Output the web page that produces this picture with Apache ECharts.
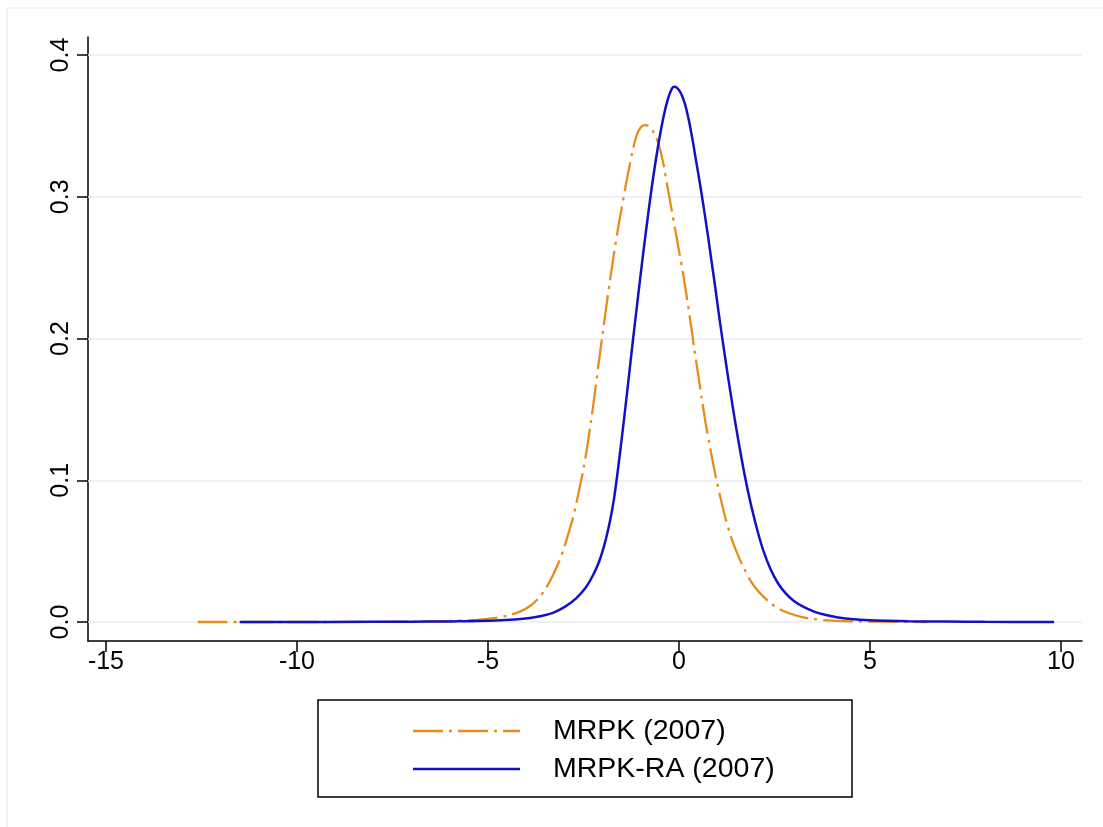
<!DOCTYPE html>
<html>
<head>
<meta charset="utf-8">
<style>
  html, body { margin: 0; padding: 0; background: #ffffff; }
  #chart { width: 1103px; height: 827px; }
</style>
<script src="https://cdn.jsdelivr.net/npm/echarts@6/dist/echarts.min.js"></script>
</head>
<body>
<div id="chart"></div>
<script>
// Kernel density estimates of log MRPK, 2007
const seriesNames = ['MRPK (2007)', 'MRPK-RA (2007)'];

const mrpkX = [-12.6, -10, -8, -7, -6, -5.3, -4.85, -4.5, -4.15, -3.9, -3.7, -3.5, -3.3, -3.15, -3.0,
  -2.9, -2.8, -2.7, -2.6, -2.5, -2.4, -2.3, -2.2, -2.1, -2.0, -1.9, -1.8, -1.7, -1.6, -1.5, -1.4, -1.3,
  -1.2, -1.1, -1.0, -0.9, -0.8, -0.7, -0.6, -0.5, -0.4, -0.3, -0.2, -0.1, 0.0, 0.1, 0.2, 0.3, 0.4, 0.5,
  0.6, 0.7, 0.8, 0.9, 1.0, 1.1, 1.2, 1.35, 1.5, 1.7, 1.9, 2.1, 2.35, 2.6, 2.9, 3.2, 3.5, 3.9, 4.5, 5.2, 6.5];
const mrpkY = [0, 0, 0.0001, 0.0003, 0.0007, 0.0015, 0.0027, 0.0045, 0.0075, 0.0113, 0.0160, 0.023, 0.033, 0.042, 0.053,
  0.062, 0.071, 0.082, 0.095, 0.108, 0.124, 0.142, 0.162, 0.183, 0.203, 0.223, 0.242, 0.260, 0.277, 0.292, 0.307, 0.321,
  0.334, 0.344, 0.349, 0.3506, 0.3500, 0.347, 0.342, 0.334, 0.322, 0.307, 0.292, 0.277, 0.262, 0.247, 0.230, 0.212, 0.193, 0.175,
  0.157, 0.140, 0.125, 0.111, 0.098, 0.086, 0.075, 0.061, 0.050, 0.038, 0.028, 0.021, 0.0145, 0.0095, 0.0060, 0.0036, 0.0022, 0.0011, 0.0005, 0.0002, 0];

const raX = [-11.5, -10, -8, -7, -6, -5.5, -4.8, -4.3, -3.9, -3.6, -3.3, -3.0, -2.7, -2.45, -2.25, -2.1, -2.0,
  -1.9, -1.8, -1.7, -1.6, -1.5, -1.4, -1.3, -1.2, -1.1, -1.0, -0.9, -0.8, -0.7, -0.6, -0.5, -0.4, -0.3,
  -0.2, -0.13, -0.05, 0.05, 0.15, 0.25, 0.35, 0.45, 0.55, 0.65, 0.75, 0.85, 0.95, 1.05, 1.2, 1.4, 1.6, 1.8,
  2.0, 2.2, 2.4, 2.6, 2.8, 3.0, 3.25, 3.52, 3.82, 4.13, 4.5, 5.0, 5.5, 6, 7, 8, 9.82];
const raY = [0, 0, 0.0001, 0.0002, 0.0004, 0.0006, 0.0011, 0.0018, 0.0028, 0.0042, 0.0065, 0.0105, 0.0165, 0.024, 0.033, 0.042, 0.050,
  0.060, 0.072, 0.087, 0.107, 0.129, 0.152, 0.176, 0.200, 0.223, 0.246, 0.268, 0.289, 0.309, 0.327, 0.343, 0.357, 0.368,
  0.3755, 0.3776, 0.3768, 0.373, 0.366, 0.355, 0.341, 0.325, 0.309, 0.292, 0.274, 0.255, 0.236, 0.216, 0.188, 0.153, 0.121, 0.093,
  0.070, 0.051, 0.037, 0.027, 0.020, 0.0150, 0.0108, 0.0075, 0.0051, 0.0034, 0.0022, 0.0013, 0.0009, 0.0006, 0.0003, 0.0001, 0];

const xTicks = [-15, -10, -5, 0, 5, 10];
const yTicks = [0, 0.1, 0.2, 0.3, 0.4];

const colors = ['#e88c1e', '#1212c4'];
const FONT = '"Liberation Sans", Arial, sans-serif';

const zip = (xs, ys) => xs.map((x, i) => [x, ys[i]]);

const chart = echarts.init(document.getElementById('chart'), null, { renderer: 'canvas' });

const option = {
  backgroundColor: '#ffffff',
  animation: false,
  grid: { left: 88, top: 37, right: 21, bottom: 186 },
  xAxis: {
    type: 'value',
    min: -15.47,
    max: 10.55,
    axisLine: { show: true, onZero: false, lineStyle: { color: '#000', width: 1.5 } },
    axisTick: { show: true, length: 11, customValues: xTicks, lineStyle: { color: '#000', width: 1.5 } },
    axisLabel: {
      customValues: xTicks, color: '#000', fontSize: 25, fontFamily: FONT, margin: 9,
      formatter: v => String(v)
    },
    splitLine: { show: false }
  },
  yAxis: {
    type: 'value',
    min: -0.0134,
    max: 0.4127,
    axisLine: { show: true, onZero: false, lineStyle: { color: '#000', width: 1.5 } },
    axisTick: { show: true, length: 11, customValues: yTicks, lineStyle: { color: '#000', width: 1.5 } },
    axisLabel: {
      customValues: yTicks, color: '#000', fontSize: 25, fontFamily: FONT, rotate: 90, margin: 14,
      formatter: v => Number(v).toFixed(1)
    },
    splitLine: { show: false }
  },
  series: [
    {
      // horizontal reference lines at each y tick, kept beneath the curves
      type: 'line',
      data: [],
      silent: true,
      z: 1,
      markLine: {
        silent: true,
        z: 1,
        symbol: 'none',
        label: { show: false },
        lineStyle: { color: '#e9edf1', width: 1.5, type: 'solid' },
        data: yTicks.map(v => ({ yAxis: v }))
      }
    },
    {
      name: seriesNames[0],
      type: 'line',
      data: zip(mrpkX, mrpkY),
      showSymbol: false,
      smooth: 0.3,
      lineStyle: { color: colors[0], width: 2.3, type: [30, 6, 3, 6] },
      z: 3
    },
    {
      name: seriesNames[1],
      type: 'line',
      data: zip(raX, raY),
      showSymbol: false,
      smooth: 0.3,
      lineStyle: { color: colors[1], width: 2.5, type: 'solid' },
      z: 4
    }
  ],
  graphic: [
    // faint frame edges
    { type: 'line', shape: { x1: 7, y1: 8, x2: 1103, y2: 8 }, style: { stroke: '#eceff2', lineWidth: 1.5 } },
    { type: 'line', shape: { x1: 7, y1: 8, x2: 7, y2: 827 }, style: { stroke: '#eceff2', lineWidth: 1.5 } },
    // legend box
    { type: 'rect', shape: { x: 318, y: 700, width: 534, height: 97 },
      style: { fill: '#fff', stroke: '#000', lineWidth: 1.5 }, z: 10 },
    { type: 'line', shape: { x1: 413, y1: 731, x2: 520, y2: 731 },
      style: { stroke: colors[0], lineWidth: 2.5, lineDash: [30, 6, 3, 6] }, z: 11 },
    { type: 'line', shape: { x1: 413, y1: 769, x2: 520, y2: 769 },
      style: { stroke: colors[1], lineWidth: 2.5 }, z: 11 },
    { type: 'text', x: 553, y: 731, z: 11,
      style: { text: seriesNames[0], fill: '#000', font: '28.5px ' + FONT, verticalAlign: 'middle' } },
    { type: 'text', x: 553, y: 769, z: 11,
      style: { text: seriesNames[1], fill: '#000', font: '28.5px ' + FONT, verticalAlign: 'middle' } }
  ]
};

chart.setOption(option);
</script>
</body>
</html>
